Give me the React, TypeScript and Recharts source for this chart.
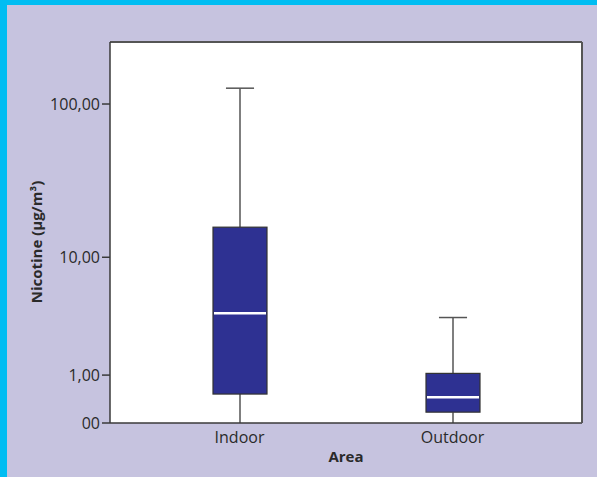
import React from "react";
import {
  ComposedChart,
  Bar,
  XAxis,
  YAxis,
  CartesianGrid,
  Label,
} from "recharts";

// box plot statistics (µg/m³)
const areas = ["Indoor", "Outdoor"];
const mins = [0, 0];
const q1s = [0.52, 0.17];
const medians = [3.9, 0.45];
const q3s = [16.0, 1.05];
const maxs = [126, 3.6];

const tickValues = [0, 1, 10, 100];
const tickLabels = ["00", "1,00", "10,00", "100,00"];

// axis is drawn on log10(v + 1)
const t = (v: number) => Math.log10(v + 1);

const data = areas.map((name, i) => ({
  name,
  min: mins[i],
  q1: q1s[i],
  median: medians[i],
  q3: q3s[i],
  max: maxs[i],
  range: [t(q1s[i]), t(q3s[i])],
}));

const FONT = "'Open Sans', sans-serif";

function BoxShape(props: any) {
  const { x, y, width, height, payload } = props;
  const top = Math.min(y, y + height);
  const h = Math.abs(height);
  const span = t(payload.q3) - t(payload.q1);
  const k = span > 0 ? h / span : 0;
  const yOf = (v: number) => top + (t(payload.q3) - t(v)) * k;
  const cx = x + width / 2;
  const cap = width * 0.26;
  return (
    <g>
      <line x1={cx} x2={cx} y1={yOf(payload.max)} y2={top} stroke="#555" strokeWidth={1.5} />
      <line x1={cx - cap} x2={cx + cap} y1={yOf(payload.max)} y2={yOf(payload.max)} stroke="#555" strokeWidth={1.5} />
      <line x1={cx} x2={cx} y1={top + h} y2={yOf(payload.min)} stroke="#555" strokeWidth={1.5} />
      <rect x={x} y={top} width={width} height={h} fill="#2e3192" stroke="#333" strokeWidth={1.2} />
      <line x1={x + 1} x2={x + width - 1} y1={yOf(payload.median)} y2={yOf(payload.median)} stroke="#fff" strokeWidth={2.5} />
    </g>
  );
}

export default function App() {
  return (
    <div
      style={{
        position: "absolute",
        left: 0,
        top: 0,
        width: 597,
        height: 477,
        background: "#c6c3df",
        overflow: "hidden",
      }}
    >
      <div style={{ position: "absolute", left: 0, top: 0, width: 597, height: 5, background: "#00bdf2" }} />
      <div style={{ position: "absolute", left: 0, top: 0, width: 7, height: 477, background: "#00bdf2" }} />
      <div style={{ position: "absolute", left: 0, top: 0 }}>
        <ComposedChart
          width={597}
          height={477}
          data={data}
          margin={{ top: 41, right: 14, bottom: 0, left: 0 }}
        >
          <CartesianGrid fill="#ffffff" horizontal={false} vertical={false} />
          <XAxis
            dataKey="name"
            height={54}
            tickLine={false}
            axisLine={{ stroke: "#3a3a3a", strokeWidth: 1.5 }}
            padding={{ left: 23, right: 23 }}
            tick={{ fill: "#2a2a2a", fontSize: 16, fontFamily: FONT }}
            tickMargin={3}
          >
            <Label
              content={({ viewBox }: any) => (
                <text
                  x={viewBox.x + viewBox.width / 2}
                  y={462}
                  textAnchor="middle"
                  fill="#2a2a2a"
                  fontSize={15}
                  fontWeight="bold"
                  fontFamily={FONT}
                >
                  Area
                </text>
              )}
            />
          </XAxis>
          <XAxis xAxisId="top" orientation="top" dataKey="name" height={1} tick={false} tickLine={false} axisLine={{ stroke: "#555", strokeWidth: 2 }} />
          <YAxis
            type="number"
            width={110}
            domain={[0, 2.394]}
            ticks={tickValues.map(t)}
            allowDataOverflow
            tickFormatter={(v: number) => {
              const i = tickValues.findIndex((tv) => Math.abs(t(tv) - v) < 1e-6);
              return i >= 0 ? tickLabels[i] : "";
            }}
            tickSize={8}
            tickLine={{ stroke: "#3a3a3a", strokeWidth: 1.5 }}
            axisLine={{ stroke: "#3a3a3a", strokeWidth: 1.5 }}
            tick={{ fill: "#2a2a2a", fontSize: 16, fontFamily: FONT }}
            tickMargin={2}
          >
            <Label
              content={() => (
                <text
                  x={36}
                  y={242}
                  transform="rotate(-90, 36, 242)"
                  textAnchor="middle"
                  dominantBaseline="central"
                  fill="#2a2a2a"
                  fontSize={15}
                  fontWeight="bold"
                  fontFamily={FONT}
                >
                  Nicotine (µg/m³)
                </text>
              )}
            />
          </YAxis>
          <YAxis yAxisId="right" orientation="right" width={1} tick={false} tickLine={false} axisLine={{ stroke: "#555", strokeWidth: 2 }} />
          <Bar dataKey="range" barSize={54} shape={BoxShape} isAnimationActive={false} />
        </ComposedChart>
      </div>
    </div>
  );
}
